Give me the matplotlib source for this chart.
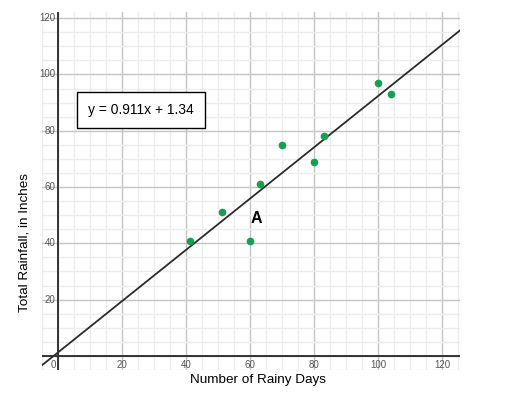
import numpy as np
import matplotlib.pyplot as plt

plt.rcParams['font.family'] = ['Liberation Sans', 'DejaVu Sans']

# Rainy days vs total rainfall
rainy_days = [41, 51, 60, 63, 70, 80, 83, 100, 104]
rainfall = [41, 51, 41, 61, 75, 69, 78, 97, 93]

# Line of best fit
slope = 0.911
intercept = 1.34

x_ticks = [20, 40, 60, 80, 100, 120]
y_ticks = [20, 40, 60, 80, 100, 120]

fig = plt.figure(figsize=(5.24, 3.99), dpi=100)
ax = fig.add_axes([0.0802, 0.0727, 0.7977, 0.8972])
ax.set_xlim(-5.1, 125.5)
ax.set_ylim(-5, 122.2)

# Grid: minor every 5, major every 20
for v in np.arange(-5, 126, 5):
    major = v % 20 == 0
    ax.axvline(v, color='#c4c4c4' if major else '#ececec', lw=1.0, zorder=0)
for v in np.arange(-5, 123, 5):
    major = v % 20 == 0
    ax.axhline(v, color='#c4c4c4' if major else '#ececec', lw=1.0, zorder=0)

# Axes lines
ax.axhline(0, color='#333333', lw=1.4, zorder=1)
ax.axvline(0, color='#333333', lw=1.4, zorder=1)

for s in ax.spines.values():
    s.set_visible(False)
ax.set_xticks([])
ax.set_yticks([])

# Tick labels inside the plot area
for t in x_ticks:
    ax.text(t, -1.5, str(t), ha='center', va='top', fontsize=7, color='#555555')
for t in y_ticks:
    ax.text(-0.9, t, str(t), ha='right', va='center', fontsize=7, color='#555555')
ax.text(-1.6, -1.5, '0', ha='center', va='top', fontsize=7, color='#555555')

# Regression line
xs = np.array([-10, 140])
ax.plot(xs, slope * xs + intercept, color='#2b2b2b', lw=1.3, zorder=3)

# Data points
ax.plot(rainy_days, rainfall, 'o', color='#14a050', markersize=4.5, zorder=4)

ax.text(61.9, 48.9, 'A', fontsize=11.5, fontweight='bold', ha='center', va='center', zorder=5)

ax.text(9.2, 87.5, 'y = 0.911x + 1.34', fontsize=10, ha='left', va='center',
        bbox=dict(boxstyle='square,pad=0.8', fc='white', ec='black', lw=1.0), zorder=5)

fig.text(0.492, 0.047, 'Number of Rainy Days', ha='center', va='center', fontsize=9.7)
fig.text(0.046, 0.392, 'Total Rainfall, in Inches', ha='center', va='center',
         fontsize=9.7, rotation=90)

plt.savefig('out.png', dpi=100)
